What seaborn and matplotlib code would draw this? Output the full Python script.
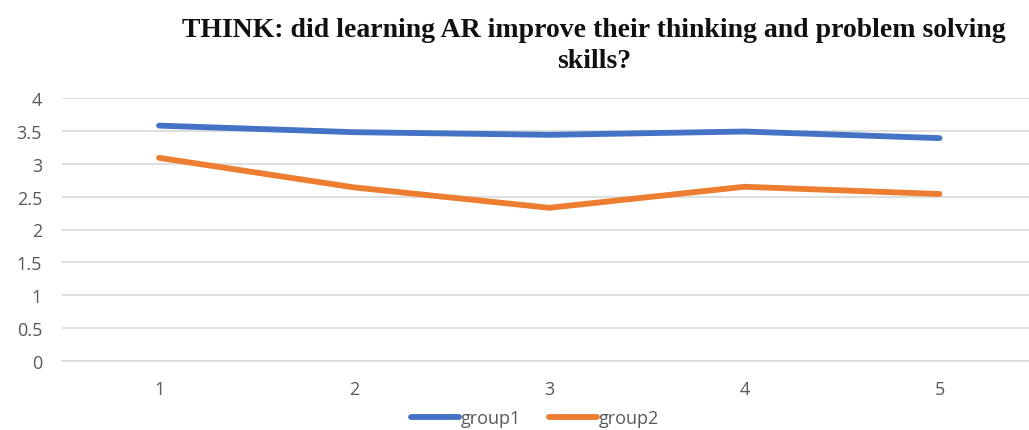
import matplotlib
matplotlib.use("Agg")
import matplotlib.pyplot as plt
import seaborn as sns
import pandas as pd

# Survey response averages per question
questions = [1, 2, 3, 4, 5]
group1 = [3.58, 3.48, 3.44, 3.49, 3.39]
group2 = [3.09, 2.64, 2.33, 2.65, 2.54]
y_ticks = [0, 0.5, 1, 1.5, 2, 2.5, 3, 3.5, 4]
y_tick_labels = ["0", "0.5", "1", "1.5", "2", "2.5", "3", "3.5", "4"]

df = pd.DataFrame({
    "question": questions * 2,
    "score": group1 + group2,
    "group": ["group1"] * len(questions) + ["group2"] * len(questions),
})

sns.set_theme(style="white")
plt.rcParams["font.family"] = ["Open Sans", "DejaVu Sans"]

fig = plt.figure(figsize=(10.29, 4.31), dpi=100)
ax = fig.add_axes([61.5 / 1029, 69 / 431, 975.5 / 1029, 263 / 431])

sns.lineplot(
    data=df, x="question", y="score", hue="group",
    palette={"group1": "#4472C4", "group2": "#ED7D31"},
    linewidth=4.2, ax=ax, legend=True, solid_capstyle="round",
)

ax.set_xlim(0.5, 5.5)
ax.set_ylim(0, 4)
ax.set_yticks(y_ticks)
ax.set_yticklabels(y_tick_labels)
ax.set_xticks(questions)
ax.set_xticklabels([str(q) for q in questions])
ax.grid(axis="y", color="#d9d9d9", linewidth=1.2)
ax.set_axisbelow(True)
for side in ["top", "right", "left"]:
    ax.spines[side].set_visible(False)
ax.spines["bottom"].set_color("#d9d9d9")
ax.spines["bottom"].set_linewidth(1.2)
ax.tick_params(axis="both", length=0, labelsize=13, colors="#595959", pad=14)
ax.set_xlabel("")
ax.set_ylabel("")

handles, labels = ax.get_legend_handles_labels()
ax.legend(
    handles, labels, loc="center", bbox_to_anchor=(535 / 1029, 12 / 431),
    bbox_transform=fig.transFigure, ncol=2, frameon=False,
    fontsize=13, handlelength=2.7, handletextpad=0.1, columnspacing=1.5,
    labelcolor="#595959",
)

fig.text(
    594 / 1029, 1 - 46 / 431,
    "THINK: did learning AR improve their thinking and problem solving\nskills?",
    ha="center", va="center", fontsize=20, fontweight="bold",
    family="Liberation Serif", linespacing=1.3, color="#111111",
)

fig.savefig("out.png", dpi=100)
